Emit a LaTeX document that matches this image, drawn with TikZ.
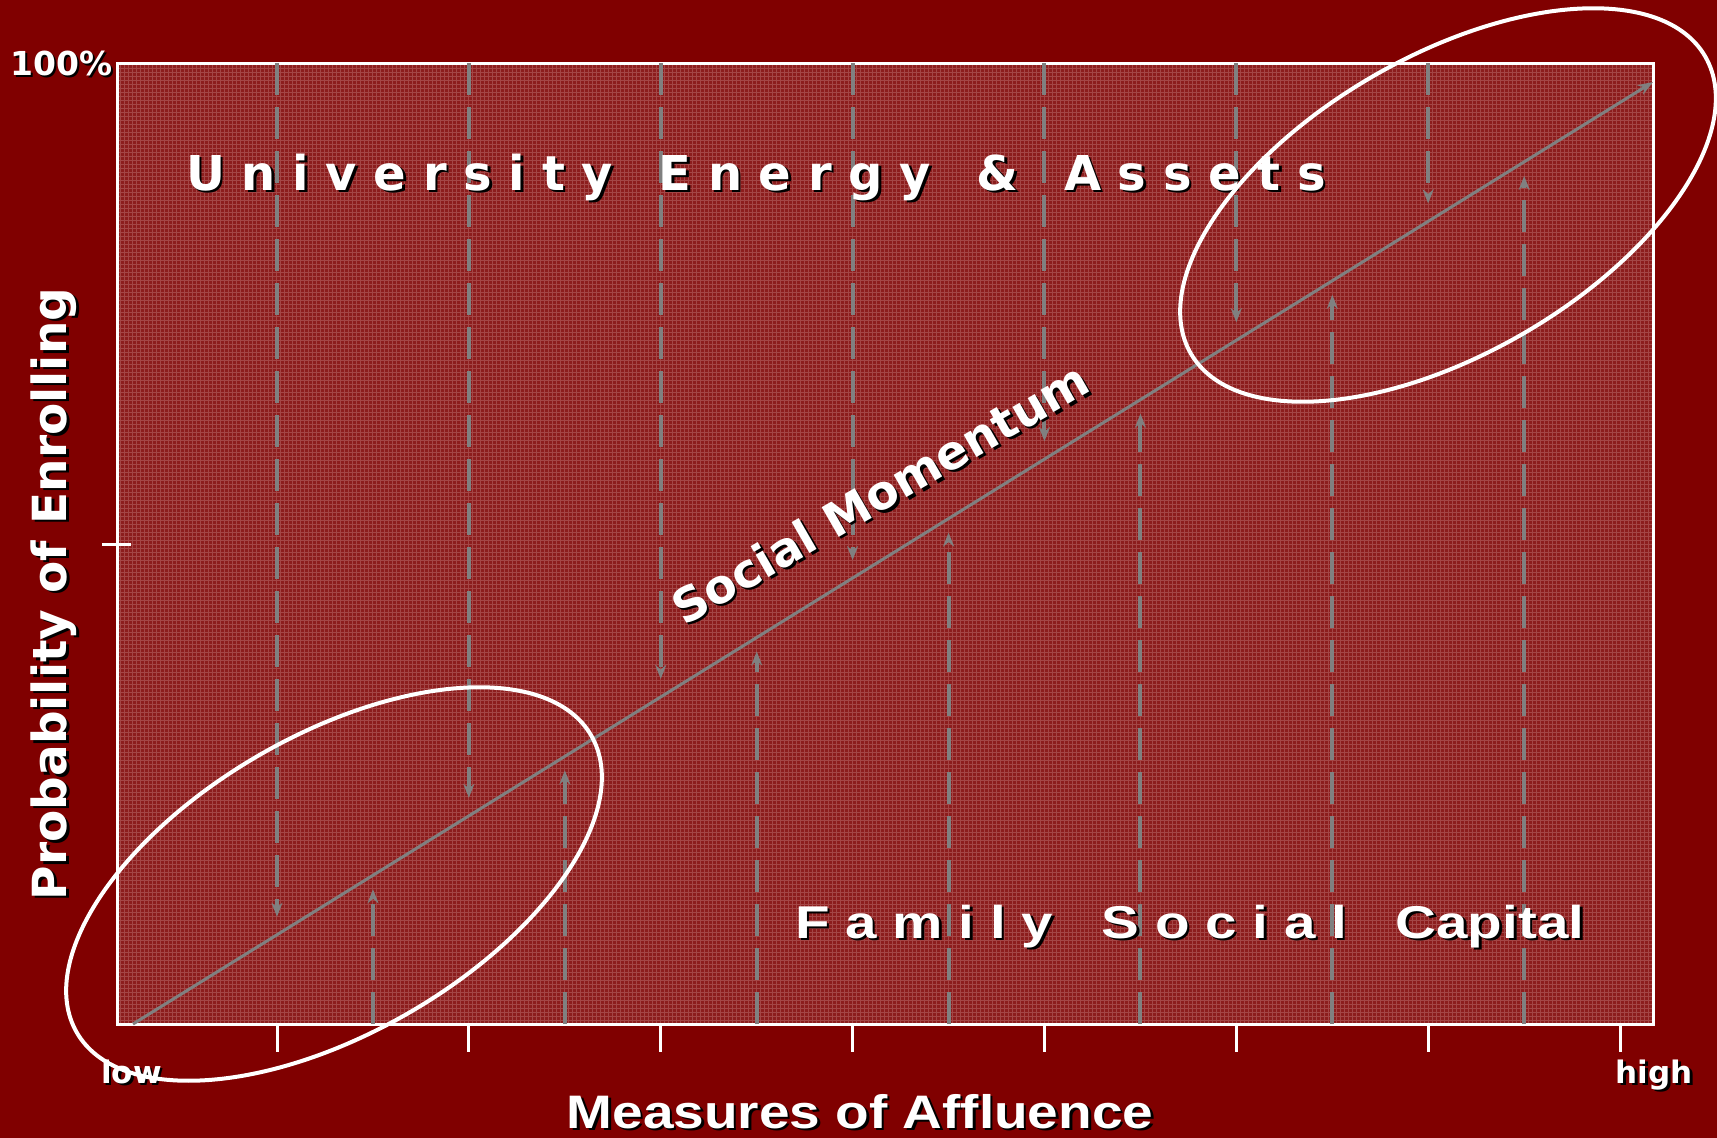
\documentclass[tikz,border=0pt]{standalone}
\usepackage{fontspec}
\usepackage{tikz}
\usetikzlibrary{arrows.meta,calc}
\newfontfamily\verd{DejaVu Sans}
\newfontfamily\aria{Liberation Sans}
\definecolor{maroon}{HTML}{800000}
\definecolor{plotred}{HTML}{8C1D1D}
\definecolor{plaid}{HTML}{C27A7A}
\definecolor{rule}{HTML}{808080}
\tikzset{
  frame/.style={draw=white, line width=3pt},
  tickmark/.style={draw=white, line width=3pt},
  plaidline/.style={draw=plaid, line width=0.7pt, opacity=0.45},
  trend/.style={-{Stealth[length=15pt,width=11pt]}, draw=rule, line width=3pt},
  dropline/.style={-{Stealth[length=14pt,width=11pt]}, draw=rule, line width=4pt, dash pattern=on 32pt off 12pt},
  ring/.style={draw=white, line width=4pt},
  txt/.style={text=white, inner sep=0pt},
  shade/.style={text=black, inner sep=0pt}
}
\newcommand{\ShadowLabel}[4]{% name, at, options, text
  \node[shade,#3] (#1-sh) at ($(#2)+(2.5,2.5)$) {#4};
  \node[txt,#3] (#1) at (#2) {#4};
}

\begin{document}
\begin{tikzpicture}[x=1pt,y=-1pt]
  \fill[maroon, use as bounding box] (0,0) rectangle (1717,1138);
  % plot area
  \coordinate (ll) at (117,1024);
  \coordinate (ur) at (1653,63);
  \fill[plotred] (ll) rectangle (ur);
  \draw[plaidline,step=4pt] (ll) grid (ur);
  \draw[frame] (ll) rectangle (ur);
  % ticks
  \foreach \k in {0,...,7}{
    \coordinate (tk\k) at ({277+191.86*\k},1024);
    \draw[tickmark] (tk\k) -- ++(0,28);
  }
  \coordinate (half) at (117,544);
  \draw[tickmark] ($(half)+(-15,0)$) -- ($(half)+(14,0)$);
  % vertical pushes
  \foreach \k in {0,...,6}{
    \pgfmathsetmacro\xd{277+191.86*\k}
    \pgfmathsetmacro\yd{1024-0.6197*(\xd-133)-18}
    \coordinate (dtop\k) at (\xd,63);
    \coordinate (dtip\k) at (\xd,\yd);
    \draw[dropline] (dtop\k) -- (dtip\k);
    \pgfmathsetmacro\xu{\xd+96}
    \pgfmathsetmacro\yu{1024-0.6197*(\xu-133)+14}
    \coordinate (ubase\k) at (\xu,1024);
    \coordinate (utip\k) at (\xu,\yu);
    \draw[dropline] (ubase\k) -- (utip\k);
  }
  % social momentum line
  \coordinate (start) at (133,1024);
  \coordinate (finish) at (1653,82);
  \draw[trend] (start) -- (finish);
  % labels
  \ShadowLabel{pct}{10,75}{anchor=base west}{\verd\bfseries\fontsize{33}{35}\selectfont 100\%}
  \ShadowLabel{low}{101,1083}{anchor=base west}{\verd\bfseries\fontsize{31}{33}\selectfont low}
  \ShadowLabel{high}{1693,1083}{anchor=base east}{\verd\bfseries\fontsize{31}{33}\selectfont high}
  \ShadowLabel{uni}{186,190}{anchor=base west}{\verd\bfseries\fontsize{48}{50}\selectfont U n i v e r s i t y\hspace{0.95em}E n e r g y\hspace{0.95em}\&\hspace{0.95em}A s s e t s}
  \ShadowLabel{fam}{795,938}{anchor=base west,xscale=1.23}{\aria\bfseries\fontsize{46}{48}\selectfont F a m i l y\hspace{0.86em}S o c i a l\hspace{0.86em}Capital}
  \ShadowLabel{mom}{880,493}{rotate=30}{\verd\bfseries\fontsize{47}{49}\selectfont Social Momentum}
  \ShadowLabel{yaxis}{54,594}{rotate=90}{\verd\bfseries\fontsize{47}{49}\selectfont Probability of Enrolling}
  \ShadowLabel{xaxis}{860,1128}{anchor=base,xscale=1.17}{\aria\bfseries\fontsize{47}{49}\selectfont Measures of Affluence}
  % rings
  \coordinate (poor) at (334,884);
  \coordinate (rich) at (1448,205);
  \draw[ring, rotate around={30:(poor)}] (poor) ellipse [x radius=297, y radius=149];
  \draw[ring, rotate around={30:(rich)}] (rich) ellipse [x radius=297, y radius=149];
\end{tikzpicture}
\end{document}
